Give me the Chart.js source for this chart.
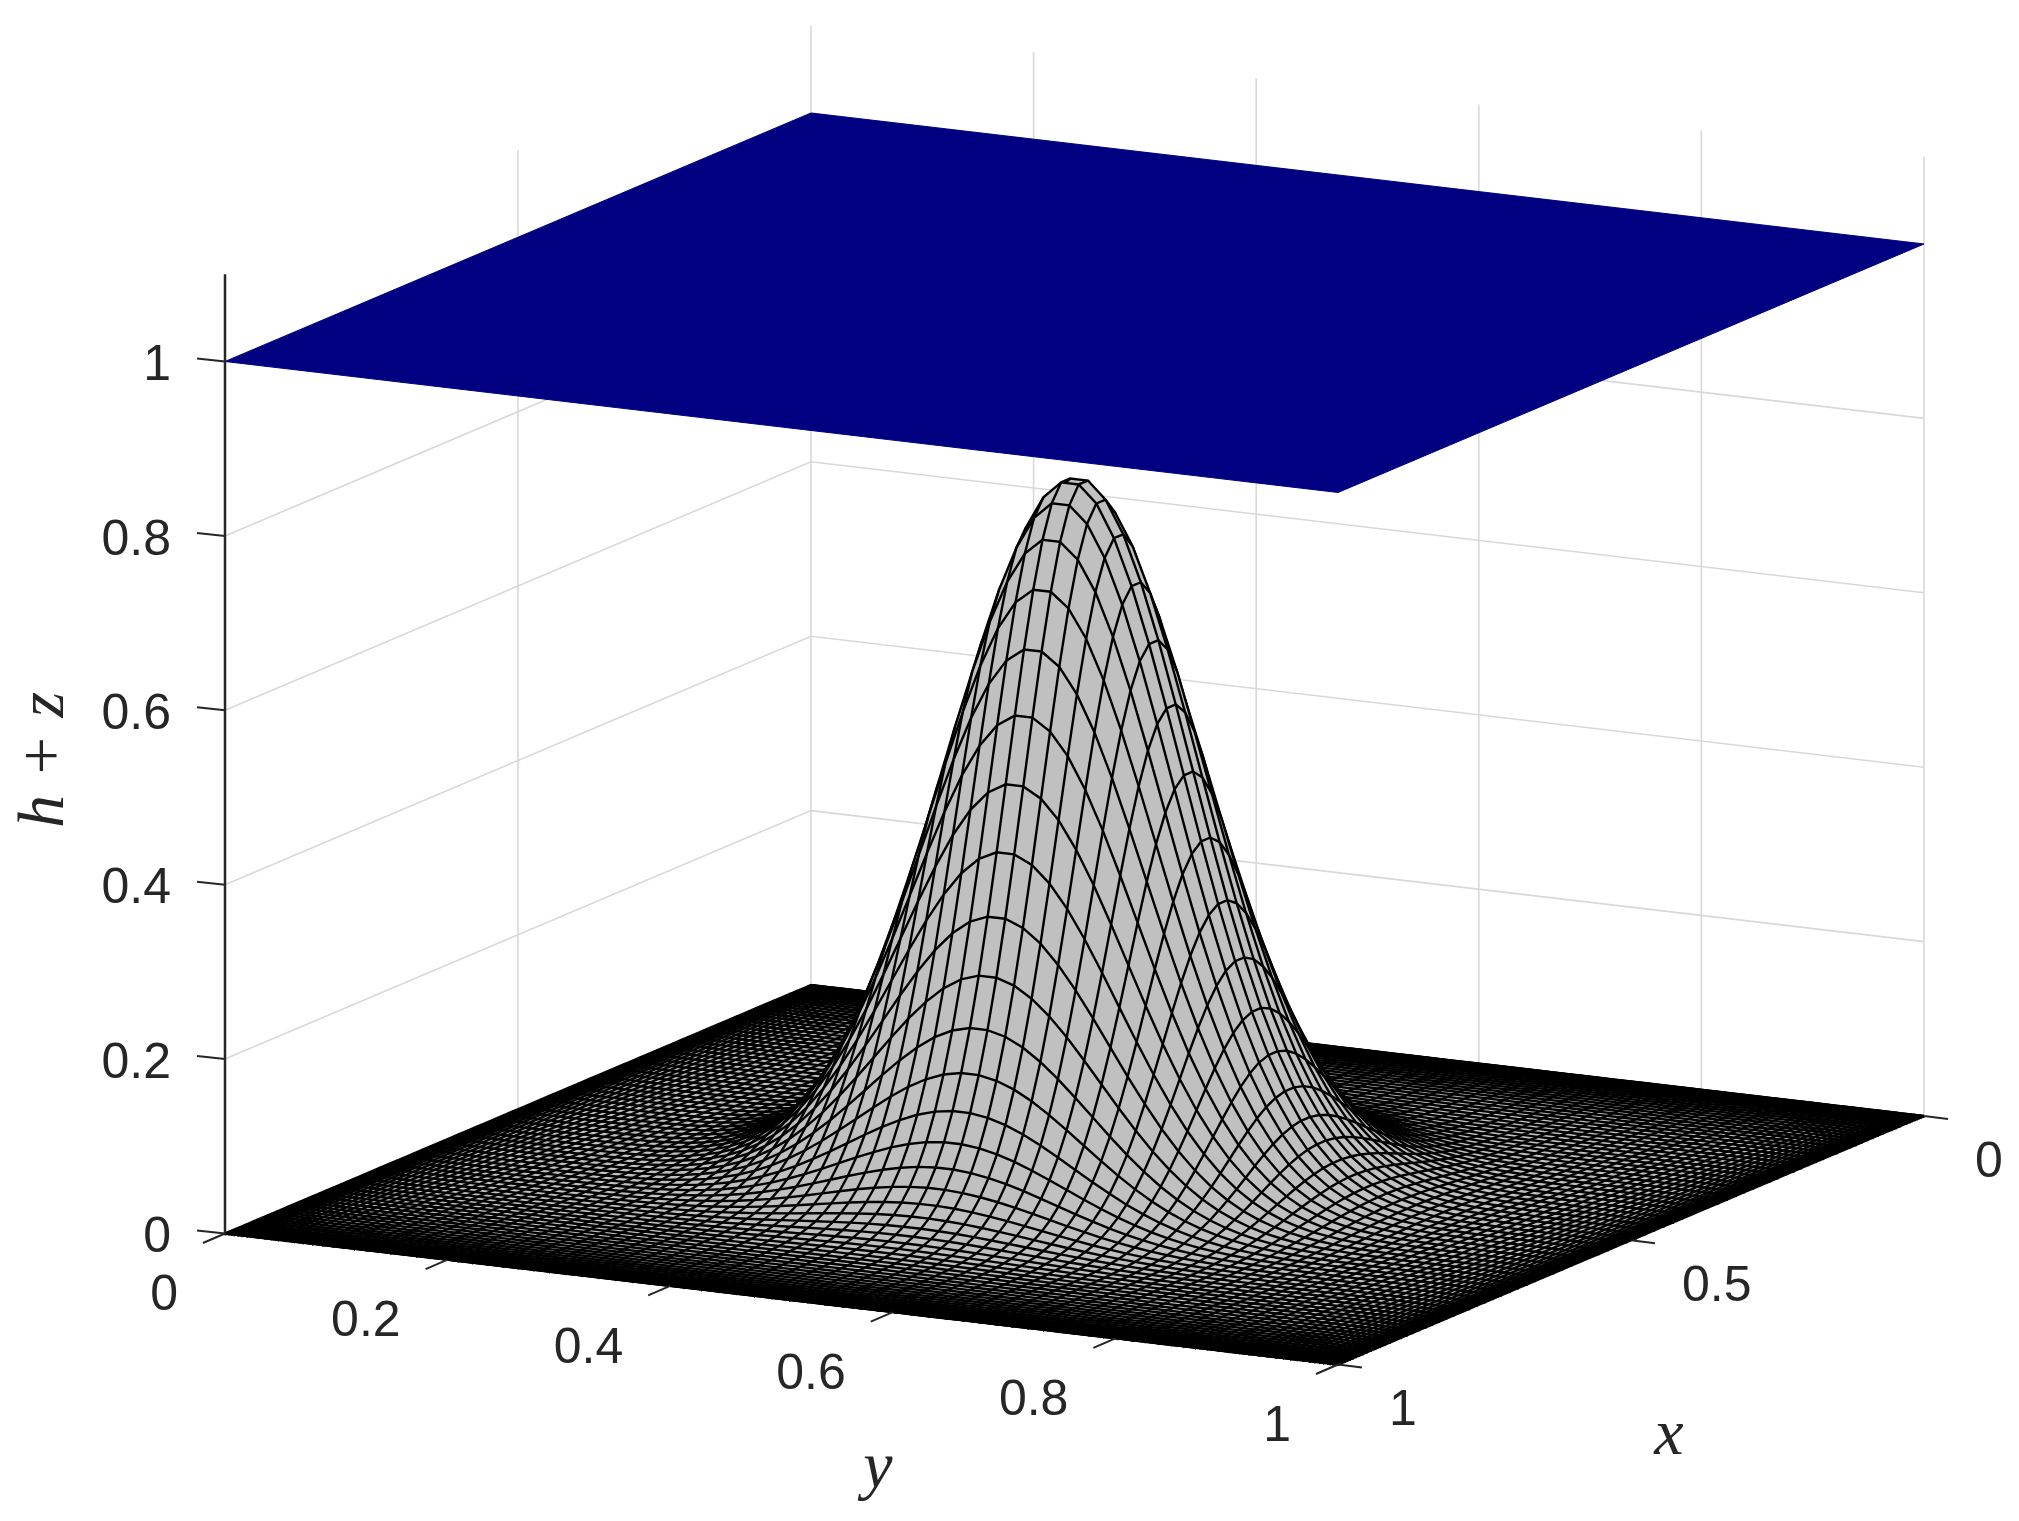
<!DOCTYPE html>
<html>
<head>
<meta charset="utf-8">
<title>h + z</title>
<script src="https://cdn.jsdelivr.net/npm/chart.js@4"></script>
<style>
  html, body { margin: 0; background: #fff; }
  canvas { display: block; }
</style>
</head>
<body>
<canvas id="surfaceChart" width="2019" height="1521"></canvas>
<script>
// Axis ticks and labels
const xTicks = [0, 0.5, 1];
const yTicks = [0, 0.2, 0.4, 0.6, 0.8, 1];
const zTicks = [0, 0.2, 0.4, 0.6, 0.8, 1];
const zTop = 1.1;
const plateHeight = 1;
const peakHeight = 0.8;

// Mesh lines crowd towards the edges, same 100 nodes along x and y
const meshNodes = [
  0, 0.00025, 0.00101, 0.00226, 0.00402, 0.00628, 0.00904, 0.01229, 0.01603, 0.02025,
  0.02497, 0.03015, 0.03582, 0.04195, 0.04854, 0.05558, 0.06308, 0.07101, 0.07937, 0.08816,
  0.09737, 0.10697, 0.11698, 0.12737, 0.13813, 0.14926, 0.16075, 0.17257, 0.18472, 0.19719,
  0.20997, 0.22303, 0.23638, 0.25, 0.26387, 0.27802, 0.29233, 0.30686, 0.32158, 0.33649,
  0.35157, 0.36678, 0.38212, 0.39759, 0.41318, 0.42884, 0.44458, 0.46039, 0.47622, 0.4921,
  0.5079, 0.52378, 0.53961, 0.55542, 0.57116, 0.58682, 0.60241, 0.61788, 0.63322, 0.64843,
  0.66351, 0.67842, 0.69314, 0.70767, 0.72198, 0.73613, 0.75, 0.76362, 0.77697, 0.79003,
  0.80281, 0.81528, 0.82743, 0.83925, 0.85074, 0.86187, 0.87263, 0.88302, 0.89303, 0.90264,
  0.91184, 0.92063, 0.92899, 0.93692, 0.94442, 0.95146, 0.95805, 0.96418, 0.96985, 0.97503,
  0.97975, 0.98397, 0.98771, 0.99096, 0.99372, 0.99598, 0.99774, 0.99899, 0.99975, 1,
];

// Bump height along its centre line, as a share of the peak, read node by node
const bumpProfile = [
  0, 0, 0, 0, 0, 0, 0, 0, 0, 0,
  0, 0, 0, 0, 0, 0.0001, 0.0001, 0.0001, 0.0002, 0.0002,
  0.0003, 0.0005, 0.0007, 0.0011, 0.0016, 0.0023, 0.0034, 0.0051, 0.0075, 0.0109,
  0.0159, 0.0228, 0.0326, 0.046, 0.0641, 0.0883, 0.1195, 0.1592, 0.2085, 0.2679,
  0.3378, 0.4172, 0.5043, 0.5965, 0.6898, 0.7793, 0.8596, 0.9256, 0.9725, 0.9969,
  0.9969, 0.9725, 0.9256, 0.8596, 0.7793, 0.6898, 0.5965, 0.5043, 0.4172, 0.3378,
  0.2679, 0.2085, 0.1592, 0.1195, 0.0883, 0.0641, 0.046, 0.0326, 0.0228, 0.0159,
  0.0109, 0.0075, 0.0051, 0.0034, 0.0023, 0.0016, 0.0011, 0.0007, 0.0005, 0.0003,
  0.0002, 0.0002, 0.0001, 0.0001, 0.0001, 0, 0, 0, 0, 0,
  0, 0, 0, 0, 0, 0, 0, 0, 0, 0,
];

// Fixed MATLAB style view of the box, in chart units
const origin = { u: 811, v: 985 };
const xDir = { u: -586, v: 248.5 };
const yDir = { u: 1113, v: 131 };
const zUnit = 872;

function project(x, y, z) {
  return {
    x: origin.u + x * xDir.u + y * yDir.u,
    y: origin.v + x * xDir.v + y * yDir.v - z * zUnit,
  };
}

function surfaceHeight(i, j) {
  return peakHeight * bumpProfile[i] * bumpProfile[j];
}

const darkText = '#262626';
const gridColor = '#d8d8d8';
const meshFill = '#c0c0c0';
const meshLine = '#000';
const plateColor = '#000080';

// Datasets are listed back to front, order keeps that drawing sequence
const layers = [];

function addLine(points, color, width, extra) {
  layers.push(Object.assign({
    data: points,
    borderColor: color,
    borderWidth: width,
    backgroundColor: color,
    pointRadius: 0,
    fill: false,
    tension: 0,
  }, extra || {}));
}

// Back walls
zTicks.slice(1).forEach((z) => {
  addLine([project(1, 0, z), project(0, 0, z), project(0, 1, z)], gridColor, 1.6);
});
xTicks.slice(0, 2).forEach((x) => {
  addLine([project(x, 0, 0), project(x, 0, zTop)], gridColor, 1.6);
});
yTicks.slice(1).forEach((y) => {
  addLine([project(0, y, 0), project(0, y, zTop)], gridColor, 1.6);
});

// Surface: one row dataset per x node, filled to the next row, then its cross lines
const lastNode = meshNodes.length - 1;
meshNodes.forEach((x, i) => {
  const row = meshNodes.map((y, j) => project(x, y, surfaceHeight(i, j)));
  const hasNext = i < lastNode;
  addLine(row, meshLine, 2.4, {
    fill: hasNext ? layers.length + 2 : false,
    backgroundColor: meshFill,
  });
  if (hasNext) {
    const cross = [];
    meshNodes.forEach((y, j) => {
      cross.push(project(x, y, surfaceHeight(i, j)));
      cross.push(project(meshNodes[i + 1], y, surfaceHeight(i + 1, j)));
      cross.push({ x: project(x, y, 0).x, y: null });
    });
    addLine(cross, meshLine, 2.4);
  }
});

// Flat plate at the top, the two edges joined by fill
addLine([project(1, 0, plateHeight), project(0, 0, plateHeight), project(0, 1, plateHeight)], plateColor, 1, {
  fill: layers.length + 1,
});
addLine([project(1, 0, plateHeight), project(1, 1, plateHeight), project(0, 1, plateHeight)], plateColor, 1);

// z axis and tick marks
addLine([project(1, 0, 0), project(1, 0, zTop)], darkText, 2.5);
zTicks.forEach((z) => {
  const p = project(1, 0, z);
  addLine([p, { x: p.x - 28, y: p.y - 3 }], darkText, 2);
});
yTicks.forEach((y) => {
  const p = project(1, y, 0);
  addLine([p, { x: p.x - 22, y: p.y + 9.5 }], darkText, 2);
});
xTicks.forEach((x) => {
  const p = project(x, 1, 0);
  addLine([p, { x: p.x + 24, y: p.y + 3 }], darkText, 2);
});

layers.forEach((ds, k) => { ds.order = -k; });

// Tick labels and axis titles sit on the projected tick positions
const boxLabels = {
  id: 'boxLabels',
  afterDraw(chart) {
    const { ctx, scales } = chart;
    const put = (text, p, dx, dy, align) => {
      ctx.textAlign = align;
      ctx.fillText(text, scales.x.getPixelForValue(p.x) + dx, scales.y.getPixelForValue(p.y) + dy);
    };
    ctx.save();
    ctx.textBaseline = 'middle';
    ctx.fillStyle = darkText;
    ctx.font = '50px "Liberation Sans"';
    zTicks.forEach((z) => put(String(z), project(1, 0, z), -54, 5, 'right'));
    yTicks.forEach((y) => put(String(y), project(1, y, 0), -47, 63, 'right'));
    xTicks.forEach((x) => put(String(x), project(x, 1, 0), 51, 47, 'left'));

    ctx.font = 'italic 66px "Liberation Serif"';
    ctx.textAlign = 'center';
    ctx.fillText('y', 878, 1470);
    ctx.fillText('x', 1669, 1437);
    ctx.translate(46, 760);
    ctx.rotate(-Math.PI / 2);
    ctx.fillText('h + z', 0, 0);
    ctx.restore();
  },
};

new Chart(document.getElementById('surfaceChart').getContext('2d'), {
  type: 'line',
  data: { datasets: layers },
  plugins: [boxLabels],
  options: {
    responsive: false,
    animation: false,
    events: [],
    layout: { padding: 0 },
    plugins: {
      legend: { display: false },
      tooltip: { enabled: false },
    },
    scales: {
      x: { type: 'linear', display: false, min: 0, max: 2019 },
      y: { type: 'linear', display: false, min: 0, max: 1521, reverse: true },
    },
  },
});
</script>
</body>
</html>
